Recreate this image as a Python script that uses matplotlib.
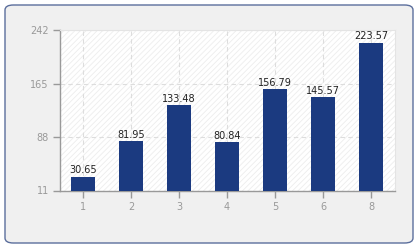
import matplotlib
matplotlib.use("Agg")
import matplotlib.pyplot as plt
from matplotlib.patches import FancyBboxPatch, Rectangle

categories = ["1", "2", "3", "4", "5", "6", "8"]
values = [30.65, 81.95, 133.48, 80.84, 156.79, 145.57, 223.57]
y_ticks = [11, 88, 165, 242]

bar_color = "#1b3a80"
tick_color = "#999999"

plt.rcParams["hatch.linewidth"] = 0.6
plt.rcParams["hatch.color"] = "#ececec"

fig = plt.figure(figsize=(4.2, 2.5), dpi=100)
fig.patch.set_facecolor("white")

# rounded outer panel
panel = FancyBboxPatch((5 / 420, 7 / 250), 408 / 420, 238 / 250,
                       boxstyle="round,pad=0,rounding_size=0.02",
                       transform=fig.transFigure, facecolor="#f0f0f0",
                       edgecolor="#5b6e9c", linewidth=1.0, zorder=-5)
fig.patches.append(panel)

ax = fig.add_axes([60 / 420, 1 - 190.5 / 250, 335 / 420, 160.5 / 250])
ax.set_zorder(1)
ax.set_facecolor("white")
ax.add_patch(Rectangle((0, 0), 1, 1, transform=ax.transAxes, facecolor="white",
                       hatch="//////", edgecolor="#ededed", linewidth=0, zorder=0))

x = list(range(len(categories)))
ax.bar(x, values, width=0.5, color=bar_color, zorder=3)
for xi, v in zip(x, values):
    ax.text(xi, v + 2, f"{v:.2f}", ha="center", va="bottom", fontsize=7,
            color="#222222", zorder=4)

ax.set_xlim(-0.48, 6.5)
ax.set_ylim(11, 242)
ax.set_xticks(x)
ax.set_xticklabels(categories)
ax.set_yticks(y_ticks)

ax.grid(True, color="#dddddd", linestyle=(0, (4, 3)), linewidth=0.8, zorder=1)
ax.set_axisbelow(True)

for side in ["top", "right"]:
    ax.spines[side].set_color("#e4e4e4")
    ax.spines[side].set_linewidth(0.8)
for side in ["left", "bottom"]:
    ax.spines[side].set_color("#999999")
    ax.spines[side].set_linewidth(1.0)

ax.tick_params(axis="both", colors=tick_color, labelsize=7, length=5, width=1,
               direction="out", pad=3)

fig.savefig("out.png", dpi=100, facecolor=fig.get_facecolor())
